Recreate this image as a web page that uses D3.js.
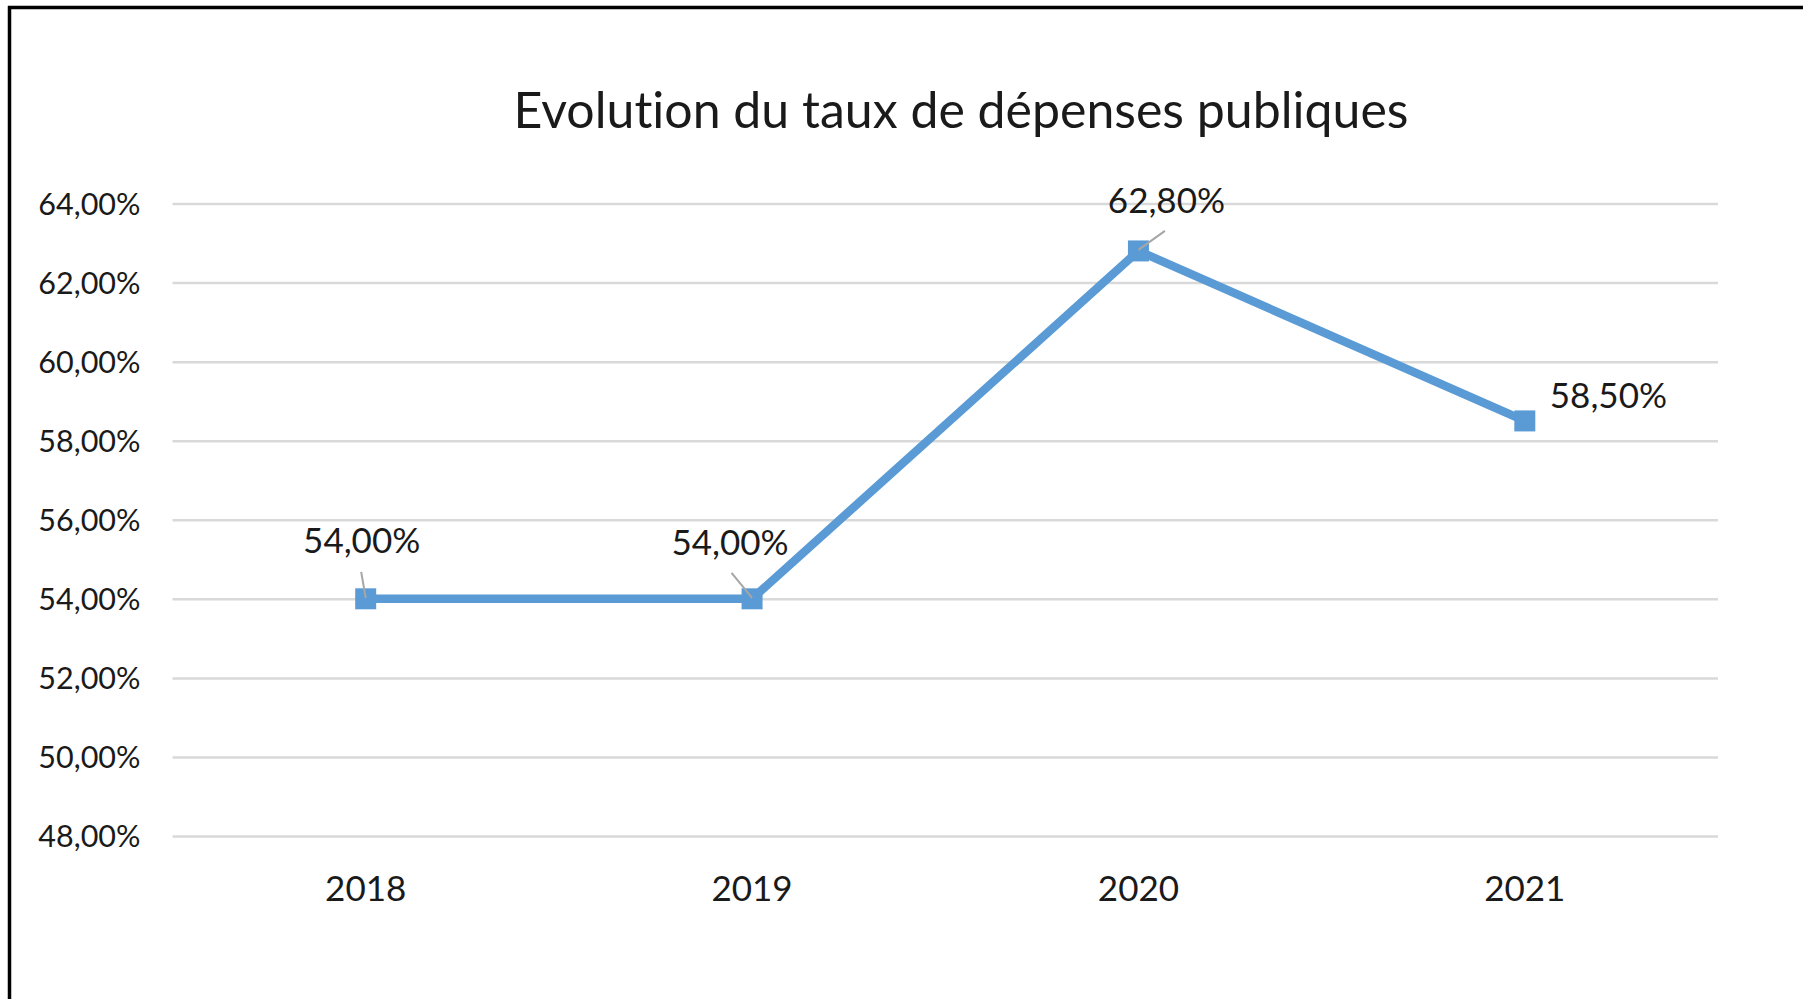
<!DOCTYPE html>
<html>
<head>
<meta charset="utf-8">
<script src="https://cdn.jsdelivr.net/npm/d3@7"></script>
<style>
  html, body { margin: 0; padding: 0; background: #fff; }
  svg { display: block; }
  text { font-family: Lato, "Noto Sans", sans-serif; fill: #1a1a1a; font-variant-ligatures: none; font-feature-settings: "liga" 0, "clig" 0; }
</style>
</head>
<body>
<svg id="chart" width="1803" height="999"></svg>
<script>
// ---- data ----
const titleText = "Evolution du taux de dépenses publiques";
const years = ["2018", "2019", "2020", "2021"];
const rates = [54.0, 54.0, 62.8, 58.5];           // % of GDP
const yTicks = [48, 50, 52, 54, 56, 58, 60, 62, 64];

// ---- layout (styles / positions, not data) ----
const W = 1803, H = 999;
const plot = { left: 172.5, right: 1718, top: 203.5, bottom: 836 };
// manual label placement relative to each point: [dx, dy, anchor, leaderFromDx, leaderFromDy]
const labelPlacement = [
  [-4, -46, "middle", -4.5, -27],
  [-22, -44, "middle", -20.5, -26],
  [28, -38, "middle", 26.5, -20],
  [25, -12.5, "start", null, null]
];

const fr = d3.formatLocale({ decimal: ",", thousands: " ", grouping: [3], currency: ["", " €"], percent: "%" });
const fmt = v => fr.format(".2%")(v / 100);

const svg = d3.select("#chart");

// frame (only top and left edges visible in the crop)
svg.append("line").attr("x1", 9.5).attr("x2", 9.5).attr("y1", 6).attr("y2", H)
  .attr("stroke", "#000").attr("stroke-width", 3.5);
svg.append("line").attr("x1", 8).attr("x2", W).attr("y1", 7.5).attr("y2", 7.5)
  .attr("stroke", "#000").attr("stroke-width", 3.5);

const x = d3.scaleBand().domain(years).range([plot.left, plot.right]).paddingInner(0).paddingOuter(0);
const y = d3.scaleLinear().domain([48, 64]).range([plot.bottom, plot.top]);

// gridlines + y labels
const yAxis = d3.axisLeft(y).tickValues(yTicks).tickFormat(fmt)
  .tickSize(-(plot.right - plot.left)).tickPadding(32);
const gy = svg.append("g").attr("transform", `translate(${plot.left},0)`).call(yAxis);
gy.select(".domain").remove();
gy.selectAll(".tick line").attr("stroke", "#d9d9d9").attr("stroke-width", 2.5);
gy.selectAll(".tick text").attr("font-size", 30.5).attr("font-family", "Lato, sans-serif")
  .attr("fill", "#1a1a1a").attr("dy", "0.36em");

// x axis labels
const xAxis = d3.axisBottom(x).tickSize(0).tickPadding(0);
const gx = svg.append("g").attr("transform", `translate(0,${plot.bottom})`).call(xAxis);
gx.select(".domain").remove();
gx.selectAll(".tick text").attr("font-size", 35).attr("font-family", "Lato, sans-serif")
  .attr("fill", "#1a1a1a").attr("dy", 0).attr("y", 65);

// title
svg.append("text").attr("x", 961).attr("y", 128).attr("text-anchor", "middle")
  .attr("font-size", 50).text(titleText);

// series line
const pts = years.map((yr, i) => ({ yr, v: rates[i], i }));
const cx = d => x(d.yr) + x.bandwidth() / 2;
const line = d3.line().x(cx).y(d => y(d.v));
svg.append("path").datum(pts).attr("d", line)
  .attr("fill", "none").attr("stroke", "#5b9bd5").attr("stroke-width", 8.5)
  .attr("stroke-linejoin", "round");

// markers
const ms = 21;
svg.selectAll("rect.marker").data(pts).enter().append("rect").attr("class", "marker")
  .attr("x", d => cx(d) - ms / 2).attr("y", d => y(d.v) - ms / 2)
  .attr("width", ms).attr("height", ms).attr("fill", "#5b9bd5");

// leader lines
svg.selectAll("line.leader").data(pts.filter(d => labelPlacement[d.i][3] !== null)).enter()
  .append("line").attr("class", "leader")
  .attr("x1", d => cx(d) + labelPlacement[d.i][3]).attr("y1", d => y(d.v) + labelPlacement[d.i][4])
  .attr("x2", d => cx(d)).attr("y2", d => y(d.v) - 1)
  .attr("stroke", "#a6a6a6").attr("stroke-width", 2);

// data labels
svg.selectAll("text.dl").data(pts).enter().append("text").attr("class", "dl")
  .attr("x", d => cx(d) + labelPlacement[d.i][0]).attr("y", d => y(d.v) + labelPlacement[d.i][1])
  .attr("text-anchor", d => labelPlacement[d.i][2])
  .attr("font-size", 35).text(d => fmt(d.v));
</script>
</body>
</html>
